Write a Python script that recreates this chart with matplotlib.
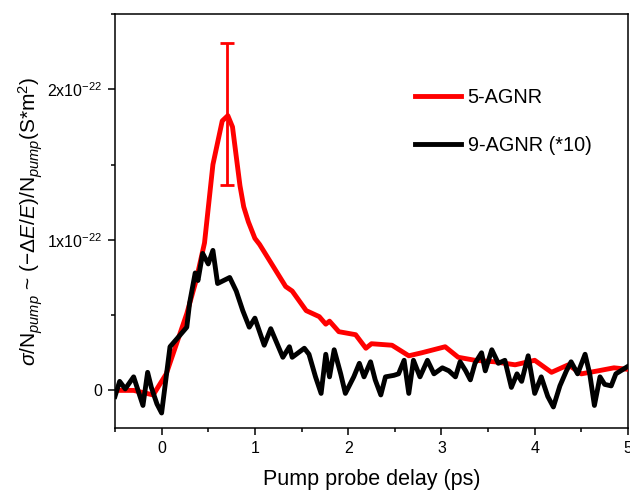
import matplotlib
matplotlib.use("Agg")
import matplotlib.pyplot as plt
from matplotlib.ticker import MultipleLocator, FuncFormatter

plt.rcParams['font.family'] = ['Liberation Sans', 'DejaVu Sans']
plt.rcParams['mathtext.fontset'] = 'custom'
plt.rcParams['mathtext.rm'] = 'Liberation Sans'
plt.rcParams['mathtext.it'] = 'Liberation Sans:italic'
plt.rcParams['mathtext.bf'] = 'Liberation Sans:bold'

# 5-AGNR (units of 1e-22 S*m^2)
red_x = [-0.5, -0.3, -0.09, 0.05, 0.16, 0.27, 0.37, 0.46, 0.55, 0.65, 0.71, 0.76, 0.84,
         0.88, 0.93, 1.0, 1.05, 1.19, 1.33, 1.40, 1.55, 1.69, 1.76, 1.80, 1.90, 2.08,
         2.19, 2.25, 2.47, 2.65, 2.79, 3.04, 3.18, 3.36, 3.57, 3.79, 4.0, 4.18, 4.36,
         4.50, 4.68, 4.85, 5.0]
red_y = [0.0, 0.0, -0.03, 0.11, 0.31, 0.51, 0.73, 0.98, 1.5, 1.79, 1.825, 1.75, 1.36,
         1.22, 1.12, 1.01, 0.97, 0.83, 0.69, 0.66, 0.53, 0.49, 0.44, 0.46, 0.39, 0.37,
         0.28, 0.31, 0.30, 0.23, 0.25, 0.29, 0.22, 0.20, 0.19, 0.17, 0.20, 0.12, 0.17,
         0.11, 0.13, 0.15, 0.14]

# 9-AGNR (*10)
blk_x = [-0.5, -0.45, -0.39, -0.30, -0.20, -0.15, -0.11, -0.05, 0.0, 0.09, 0.16, 0.27,
         0.30, 0.36, 0.39, 0.44, 0.50, 0.55, 0.60, 0.73, 0.80, 0.87, 0.94, 1.0, 1.10,
         1.17, 1.30, 1.37, 1.40, 1.53, 1.58, 1.65, 1.71, 1.76, 1.80, 1.85, 1.92, 1.97,
         2.06, 2.12, 2.17, 2.24, 2.29, 2.35, 2.40, 2.49, 2.54, 2.60, 2.65, 2.70, 2.77,
         2.85, 2.92, 3.01, 3.08, 3.15, 3.20, 3.26, 3.31, 3.36, 3.43, 3.47, 3.54, 3.61,
         3.68, 3.75, 3.81, 3.86, 3.93, 4.00, 4.07, 4.14, 4.20, 4.27, 4.34, 4.39, 4.46,
         4.54, 4.59, 4.64, 4.70, 4.75, 4.82, 4.87, 5.0]
blk_y = [-0.04, 0.06, 0.01, 0.09, -0.10, 0.12, 0.02, -0.09, -0.15, 0.29, 0.34, 0.42,
         0.58, 0.78, 0.73, 0.91, 0.84, 0.93, 0.71, 0.75, 0.66, 0.53, 0.42, 0.48, 0.30,
         0.41, 0.22, 0.29, 0.22, 0.28, 0.24, 0.09, -0.02, 0.24, 0.09, 0.27, 0.11, -0.02,
         0.09, 0.18, 0.09, 0.19, 0.07, -0.03, 0.09, 0.10, 0.11, 0.20, -0.02, 0.20, 0.09,
         0.20, 0.11, 0.15, 0.13, 0.09, 0.19, 0.13, 0.07, 0.18, 0.25, 0.13, 0.27, 0.18,
         0.20, 0.02, 0.11, 0.06, 0.23, -0.02, 0.09, -0.04, -0.11, 0.03, 0.13, 0.19, 0.11,
         0.24, 0.11, -0.10, 0.09, 0.04, 0.03, 0.11, 0.16]

err_x = [0.70]
err_y = [1.835]
err_val = [0.47]

scale = 1e-22

fig = plt.figure(figsize=(6.3, 4.92), dpi=100)
ax = fig.add_axes([0.1825, 0.130, 0.8143, 0.8415])

ax.plot(red_x, [v * scale for v in red_y], color='#ff0000', lw=3.5, label='5-AGNR',
        solid_joinstyle='round', zorder=3)
ax.plot(blk_x, [v * scale for v in blk_y], color='black', lw=3.5, label='9-AGNR (*10)',
        solid_joinstyle='round', zorder=4)
ax.errorbar(err_x, [v * scale for v in err_y], yerr=[v * scale for v in err_val],
            fmt='none', ecolor='#ff0000', elinewidth=2.0, capsize=5, capthick=2.0, zorder=3)

ax.set_xlim(-0.5, 5.0)
ax.set_ylim(-0.25e-22, 2.5e-22)

ax.xaxis.set_major_locator(MultipleLocator(1))
ax.xaxis.set_minor_locator(MultipleLocator(0.5))
ax.yaxis.set_major_locator(MultipleLocator(1e-22))
ax.yaxis.set_minor_locator(MultipleLocator(0.5e-22))


def yfmt(v, pos):
    n = round(v / 1e-22)
    if n == 0:
        return '0'
    return r'%dx10$^{-22}$' % n


ax.yaxis.set_major_formatter(FuncFormatter(yfmt))
ax.xaxis.set_major_formatter(FuncFormatter(lambda v, p: '%d' % round(v)))

for s in ax.spines.values():
    s.set_linewidth(1.1)
ax.tick_params(axis='both', which='major', direction='out', length=5, width=1.1,
               labelsize=11.5, pad=4)
ax.tick_params(axis='both', which='minor', direction='out', length=3, width=1.1)

ax.set_xlabel('Pump probe delay (ps)', fontsize=15.5)
ax.xaxis.set_label_coords(0.5, -0.100)
ax.set_ylabel(r'$\sigma/\mathrm{N}_{pump}$ ~ $(-\Delta E/E)/\mathrm{N}_{pump}$(S*m$^2$)',
              fontsize=15)
ax.yaxis.set_label_coords(-0.136, 0.5)

leg = ax.legend(loc='upper left', bbox_to_anchor=(0.55, 0.865), frameon=False,
                fontsize=14.3, handlelength=2.3, labelspacing=1.45, handletextpad=0.35)

fig.savefig('out.png', dpi=100)
